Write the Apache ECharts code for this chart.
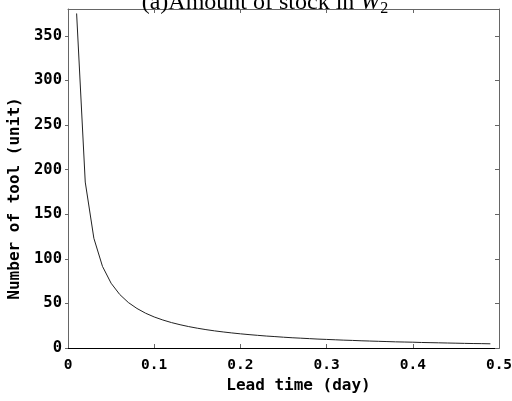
<!DOCTYPE html>
<html lang="en">
<head>
    <meta charset="UTF-8">
    <title>Amount of stock in W2</title>
    <script src="https://cdn.jsdelivr.net/npm/echarts@6/dist/echarts.min.js"></script>
    <style>
        html, body { margin: 0; padding: 0; background: #fff; }
    </style>
</head>
<body>
    <div id="main" style="width: 512px;height:401px;"></div>
    <script>
        // lead time (day), sampled every 0.01
        var leadTime = [0.01, 0.02, 0.03, 0.04, 0.05, 0.06, 0.07, 0.08, 0.09, 0.10,
            0.11, 0.12, 0.13, 0.14, 0.15, 0.16, 0.17, 0.18, 0.19, 0.20,
            0.21, 0.22, 0.23, 0.24, 0.25, 0.26, 0.27, 0.28, 0.29, 0.30,
            0.31, 0.32, 0.33, 0.34, 0.35, 0.36, 0.37, 0.38, 0.39, 0.40,
            0.41, 0.42, 0.43, 0.44, 0.45, 0.46, 0.47, 0.48, 0.49];
        // number of tool (unit)
        var toolCount = [375, 186, 123, 91.5, 72.6, 60, 51, 44.3, 39, 34.8,
            31.4, 28.5, 26.1, 24, 22.2, 20.6, 19.2, 18, 16.9, 15.9,
            15, 14.2, 13.4, 12.8, 12.1, 11.5, 11, 10.5, 10, 9.6,
            9.2, 8.8, 8.5, 8.1, 7.8, 7.5, 7.2, 6.9, 6.7, 6.5,
            6.2, 6, 5.8, 5.6, 5.4, 5.2, 5, 4.9, 4.7];
        var xTickLabels = ['0', '0.1', '0.2', '0.3', '0.4', '0.5'];
        var yTickLabels = ['0', '50', '100', '150', '200', '250', '300', '350'];

        var points = [];
        for (var i = 0; i < leadTime.length; i++) {
            points.push([leadTime[i], toolCount[i]]);
        }

        var myChart = echarts.init(document.getElementById('main'));

        var boxColor = '#666';
        var labelFont = {
            fontFamily: 'DejaVu Sans Mono',
            fontWeight: 'bold',
            fontSize: 16,
            color: '#000'
        };

        var option = {
            animation: false,
            backgroundColor: '#fff',
            title: {
                text: '(a)Amount of stock in {i|W}{s|2}',
                left: 260,
                textAlign: 'center',
                top: -16,
                textStyle: {
                    fontFamily: 'Liberation Serif',
                    fontWeight: 'normal',
                    fontSize: 24,
                    color: '#000',
                    rich: {
                        i: { fontFamily: 'Liberation Serif', fontStyle: 'italic', fontSize: 24, color: '#000' },
                        s: { fontFamily: 'Liberation Serif', fontSize: 16, color: '#000', padding: [12, 0, 0, 0] }
                    }
                }
            },
            grid: {
                left: 68,
                right: 13,
                top: 9,
                bottom: 53,
                outerBoundsMode: 'none',
                containLabel: false
            },
            xAxis: [{
                type: 'value',
                min: 0,
                max: 0.5,
                interval: 0.1,
                name: 'Lead time (day)',
                nameLocation: 'middle',
                nameGap: 30,
                nameTextStyle: Object.assign({}, labelFont, { padding: [0, 0, 0, 30] }),
                axisLine: { onZero: false, lineStyle: { color: '#000', width: 1 } },
                axisTick: { inside: true, length: 4, lineStyle: { color: boxColor } },
                axisLabel: Object.assign({
                    margin: 10,
                    formatter: function (v) {
                        return xTickLabels[Math.round(v * 10)];
                    }
                }, labelFont, { fontSize: 14.5 }),
                splitLine: { show: false }
            }, {
                type: 'value',
                position: 'top',
                min: 0,
                max: 0.5,
                interval: 0.1,
                axisLine: { show: true, onZero: false, lineStyle: { color: boxColor, width: 1 } },
                axisTick: { show: true, inside: true, length: 4, lineStyle: { color: boxColor } },
                axisLabel: { show: false },
                splitLine: { show: false }
            }],
            yAxis: [{
                type: 'value',
                min: 0,
                max: 380,
                interval: 50,
                name: 'Number of tool (unit)',
                nameLocation: 'middle',
                nameGap: 28,
                nameTextStyle: Object.assign({}, labelFont, { padding: [0, 40, 0, 0] }),
                axisLine: { show: true, onZero: false, lineStyle: { color: boxColor, width: 1 } },
                axisTick: { inside: false, length: 3, lineStyle: { color: boxColor } },
                axisLabel: Object.assign({
                    margin: 6,
                    showMaxLabel: false,
                    formatter: function (v) {
                        return (v % 50 === 0) ? yTickLabels[Math.round(v / 50)] : '';
                    }
                }, labelFont, { fontSize: 15.5 }),
                splitLine: { show: false }
            }, {
                type: 'value',
                position: 'right',
                min: 0,
                max: 380,
                interval: 50,
                axisLine: { show: true, onZero: false, lineStyle: { color: boxColor, width: 1 } },
                axisTick: { show: true, inside: true, length: 4, lineStyle: { color: boxColor } },
                axisLabel: { show: false },
                splitLine: { show: false }
            }],
            series: [{
                name: 'stock',
                type: 'line',
                data: points,
                showSymbol: false,
                lineStyle: { color: '#222', width: 1 },
                silent: true
            }, {
                // empty series so the mirrored top/right axes are drawn
                name: 'frame',
                type: 'line',
                xAxisIndex: 1,
                yAxisIndex: 1,
                data: [],
                silent: true
            }]
        };

        myChart.setOption(option);
    </script>
</body>
</html>
